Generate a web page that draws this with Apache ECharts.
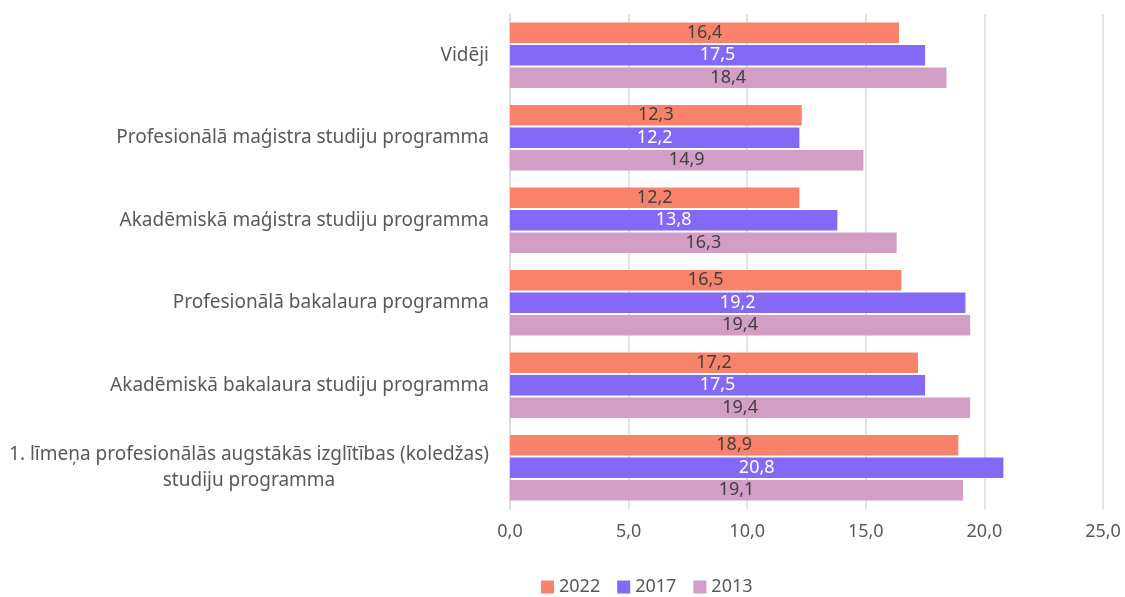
<!DOCTYPE html>
<html>
<head>
<meta charset="utf-8">
<script src="https://cdn.jsdelivr.net/npm/echarts@6/dist/echarts.min.js"></script>
<style>
  html, body { margin: 0; padding: 0; background: #fff; }
  #chart { width: 1125px; height: 597px; }
</style>
</head>
<body>
<div id="chart"></div>
<script>
// horizontal grouped bars, top-to-bottom category order (yAxis inverse)
var categories = [
  "Vidēji",
  "Profesionālā maģistra studiju programma",
  "Akadēmiskā maģistra studiju programma",
  "Profesionālā bakalaura programma",
  "Akadēmiskā bakalaura studiju programma",
  "1. līmeņa profesionālās augstākās izglītības (koledžas)\nstudiju programma"
];
var years = ["2022", "2017", "2013"];
var v2022 = [16.4, 12.3, 12.2, 16.5, 17.2, 18.9];
var v2017 = [17.5, 12.2, 13.8, 19.2, 17.5, 20.8];
var v2013 = [18.4, 14.9, 16.3, 19.4, 19.4, 19.1];
var xTicks = [0, 5, 10, 15, 20, 25];

var COLORS = ["#F8836A", "#8469F7", "#D39EC6"];
var LABEL_COLORS = ["#404040", "#ffffff", "#404040"];
var FONT = "Noto Sans";

function comma(v) { return v.toFixed(1).replace(".", ","); }

var chart = echarts.init(document.getElementById("chart"));
var seriesData = [v2022, v2017, v2013];

chart.setOption({
  animation: false,
  textStyle: { fontFamily: FONT },
  grid: { left: 510, right: 22, top: 14, bottom: 88, containLabel: false },
  legend: {
    data: years,
    left: 541, top: 578, padding: 0,
    itemWidth: 13, itemHeight: 13, itemGap: 17,
    icon: "rect",
    textStyle: { fontSize: 18, color: "#595959", fontFamily: FONT }
  },
  xAxis: {
    type: "value", min: xTicks[0], max: xTicks[xTicks.length - 1], interval: 5,
    axisLine: { show: false }, axisTick: { show: false },
    splitLine: { lineStyle: { color: "#d9d9d9", width: 1.5 } },
    axisLabel: { fontSize: 18, color: "#595959", margin: 14, formatter: comma }
  },
  yAxis: {
    type: "category", data: categories, inverse: true,
    axisLine: { show: true, lineStyle: { color: "#d9d9d9", width: 1.5 } },
    axisTick: { show: false },
    axisLabel: {
      fontSize: 19, color: "#595959", margin: 21, lineHeight: 26,
      formatter: function (v) {
        if (v.indexOf("\n") < 0) return v;
        return v.split("\n").map(function (s) { return "{c|" + s + "}"; }).join("\n");
      },
      rich: { c: { align: "center", fontSize: 19, color: "#595959", lineHeight: 26, fontFamily: FONT } }
    }
  },
  series: years.map(function (y, i) {
    return {
      name: y, type: "bar", data: seriesData[i],
      barWidth: 20.5, barGap: "10%",
      itemStyle: { color: COLORS[i] },
      label: {
        show: true, position: "inside", fontSize: 18, fontFamily: FONT,
        color: LABEL_COLORS[i], formatter: function (p) { return comma(p.value); }
      }
    };
  })
});
</script>
</body>
</html>
